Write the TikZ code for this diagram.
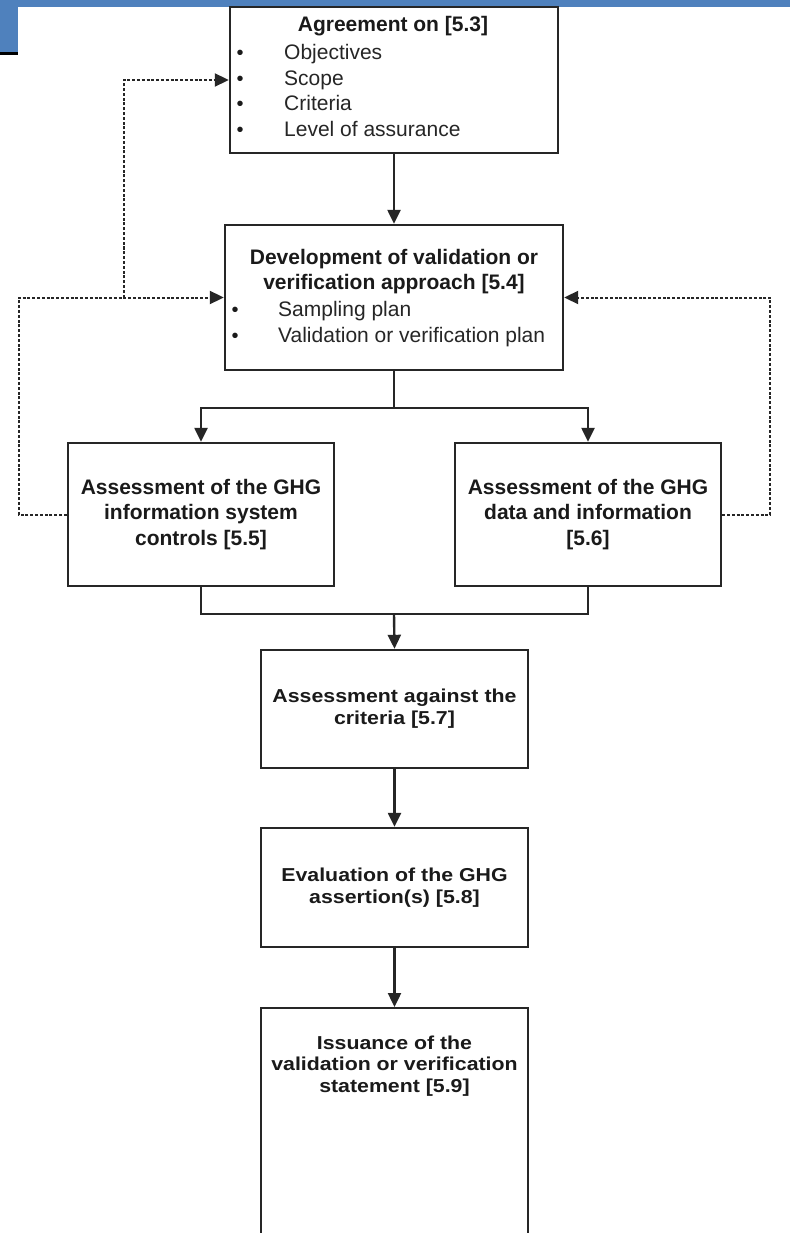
\documentclass[tikz,border=0pt]{standalone}
\usepackage{fontspec}
\setmainfont{Liberation Sans}
\newfontfamily\sqfont{Liberation Sans}[FakeStretch=1.14]
\usetikzlibrary{arrows.meta}
\definecolor{barblue}{HTML}{4F81BD}
\definecolor{ink}{HTML}{262626}
\definecolor{inkb}{HTML}{1A1A1A}
\tikzset{
  box/.style={draw=ink, line width=2.4pt, rectangle, inner sep=0pt, fill=white},
  conn/.style={draw=ink, line width=2.4pt},
  arr/.style={conn, -{Triangle[length=14pt,width=13pt]}},
  fb/.style={draw=ink, line width=2pt, dash pattern=on 3pt off 1.8pt},
  fbarr/.style={fb, -{Triangle[length=14pt,width=13pt]}},
  ttl/.style={inner sep=0pt, text=inkb, font=\bfseries\fontsize{21}{25.5}\selectfont},
  itm/.style={inner sep=0pt, text=ink, font=\fontsize{21}{25.5}\selectfont, anchor=base west},
  bul/.style={inner sep=0pt, text=inkb, font=\fontsize{20}{20}\selectfont, anchor=base},
  midtxt/.style={box, align=center, text=inkb, font=\bfseries\fontsize{21}{25.5}\selectfont},
  lowtxt/.style={align=center, text=inkb, font=\sqfont\bfseries\fontsize{18.7}{21.7}\selectfont},
}
\begin{document}
\begin{tikzpicture}[x=1pt,y=-1pt]
\useasboundingbox (0,0) rectangle (790,1233);
\clip (0,0) rectangle (790,1233);
\fill[white] (0,0) rectangle (790,1233);
% header bar
\fill[barblue] (0,0) rectangle (790,7);
\fill[barblue] (0,0) rectangle (18,53);
\fill[black] (0,52) rectangle (18,55);

% Agreement box
\node[box, minimum width=328, minimum height=146] (agr) at (394,80) {};
\node[ttl, anchor=base] (agrT) at (393,32) {Agreement on [5.3]};
\node[bul] (b1) at (240,60) {•};
\node[bul] (b2) at (240,85.5) {•};
\node[bul] (b3) at (240,111) {•};
\node[bul] (b4) at (240,136.5) {•};
\node[itm] (i1) at (284,60) {Objectives};
\node[itm] (i2) at (284,85.5) {Scope};
\node[itm] (i3) at (284,111) {Criteria};
\node[itm] (i4) at (284,136.5) {Level of assurance};

% Development box
\node[box, minimum width=338, minimum height=145] (dev) at (394,297.5) {};
\node[ttl, anchor=base] (devT1) at (394,264) {Development of validation or};
\node[ttl, anchor=base] (devT2) at (394,289.5) {verification approach [5.4]};
\node[bul] (d1) at (235,316) {•};
\node[bul] (d2) at (235,342) {•};
\node[itm] (j1) at (278,316) {Sampling plan};
\node[itm] (j2) at (278,342) {Validation or verification plan};

% Assessment boxes
\node[midtxt, minimum width=266, minimum height=143] (asl) at (201,514.5)
  {Assessment of the GHG\\information system\\{}controls [5.5]};
\node[midtxt, minimum width=266, minimum height=143] (asr) at (588,514.5)
  {Assessment of the GHG\\data and information\\{}[5.6]};

% Lower boxes
\node[box, lowtxt, minimum width=267, minimum height=118] (crit) at (394.5,709)
  {Assessment against the\\criteria [5.7]};
\node[box, lowtxt, minimum width=267, minimum height=119] (eval) at (394.5,887.5)
  {Evaluation of the GHG\\assertion(s) [5.8]};
\node[box, minimum width=267, minimum height=260, anchor=north] (iss) at (394.5,1007) {};
\node[lowtxt, inner sep=0pt] (issT) at (394.5,1066)
  {Issuance of the\\validation or verification\\statement [5.9]};

% solid connectors
\coordinate (br) at (394,408);
\coordinate (mg) at (394,614);
\draw[arr] (agr.south) -- (dev.north);
\draw[conn] (dev.south) -- (br);
\draw[arr] (br) -| (asl.north);
\draw[arr] (br) -| (asr.north);
\draw[conn] (asl.south) |- (mg) -| (asr.south);
\draw[arr] (mg) -- (crit.north);
\draw[arr] (crit.south) -- (eval.north);
\draw[arr] (eval.south) -- (iss.north);

% feedback (dashed) connectors
\coordinate (jn) at (124,297.5);
\draw[fbarr] (asl.west) -- ++(-48,0) |- (dev.west);
\draw[fbarr] (jn) |- (agr.west);
\draw[fbarr] (asr.east) -- ++(48,0) |- (dev.east);
\end{tikzpicture}
\end{document}
